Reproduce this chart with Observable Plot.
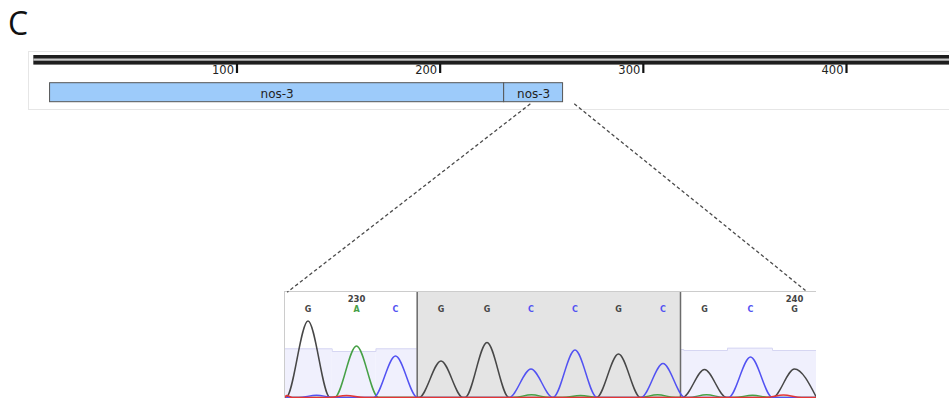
<!DOCTYPE html>
<html><head><meta charset="utf-8">
<script src="https://cdn.jsdelivr.net/npm/d3@7"></script>
<script src="https://cdn.jsdelivr.net/npm/@observablehq/plot@0.6"></script>
<style>
html,body{margin:0;padding:0;background:#fff;}
#fig{position:relative;width:949px;height:398px;overflow:hidden;font-family:"DejaVu Sans",sans-serif;background:#fff;}
#fig > *{position:absolute;}
#panelLabel{left:8px;top:7px;font-family:"Open Sans",sans-serif;font-size:32px;line-height:1;color:#111;}
#panelBox{left:28px;top:51px;width:940px;height:59px;border:1px solid #e6e6e6;box-sizing:border-box;}
</style></head><body><div id="fig"><div id="panelLabel">C</div><div id="panelBox"></div></div>
<script>
// ---------- data ----------
// genome track
const rulerTicks = [100, 200, 300, 400];
const featureNames = ["nos-3", "nos-3"];
const featureStart = [8, 231.5];
const featureEnd = [231.5, 260.5];
const zoomFrom = [244.4, 266.0];        // genome positions where zoom lines start
// chromatogram (trace scan units)
const bases = ["G","A","C","G","G","C","C","G","C","G","C","G"];
const basePositions = [229,230,231,232,233,234,235,236,237,238,239,240];
const peakScans = [23.5, 72, 111, 156.5, 202.5, 246.5, 290.5, 334, 378.5, 420, 466, 510];
const peakHeights = [1530, 1030, 830, 730, 1100, 570, 950, 870, 680, 560, 810, 570];
const quality = [48.7, 46, 48.7, 48, 48, 48, 48, 48, 48, 47, 49.3, 47];
const minorBases = ["T","C","T","A","A","A","A","A","T"];
const minorScans = [2, 32, 62, 247, 296, 373, 422, 468, 499];
const minorHeights = [40, 45, 40, 55, 40, 55, 55, 45, 50];
const highlightRange = [132.7, 396];   // scans of the highlighted region
const positionLabels = [230, 240];
const zoomTo = [2.7, 521];              // scans where zoom lines end
const scanRange = [0, 532];

// ---------- genome track ----------
const featureRows = featureNames.map((n, i) => ({name: n, start: featureStart[i], end: featureEnd[i]}));
const xDomain = [-16.4, 450.7];
const track = Plot.plot({
  width: 949, height: 120, margin: 0,
  style: {background: "transparent", overflow: "visible"},
  x: {domain: xDomain, axis: null},
  y: {domain: [0, 120], range: [0, 120], axis: null},
  marks: [
    Plot.rect([0], {x1: 0, x2: xDomain[1], y1: 55, y2: 64.6, fill: "#1e1e1e"}),
    Plot.rect([0], {x1: 0, x2: xDomain[1], y1: 58.5, y2: 60.7, fill: "#c8c8c8"}),
    Plot.ruleX(rulerTicks, {x: d => d, y1: 64, y2: 73, stroke: "#111", strokeWidth: 2.2}),
    Plot.text(rulerTicks, {x: d => d, y: 70.3, text: d => String(d), textAnchor: "end", dx: -3,
      fontSize: 11.5, fill: "#222", fontFamily: "DejaVu Sans"}),
    Plot.rect(featureRows, {x1: "start", x2: "end", y1: 82.7, y2: 101.7, fill: "#9dcbfa", stroke: "#555", strokeWidth: 1}),
    Plot.text(featureRows, {x: d => (d.start + d.end) / 2, y: 94, text: "name", fontSize: 12, fill: "#222", fontFamily: "DejaVu Sans"})
  ]
});
track.style.left = "0px"; track.style.top = "0px";
document.getElementById("fig").appendChild(track);

// ---------- chromatogram ----------
const colorDomain = ["G", "A", "C", "T"];
const colorRange = ["#474747", "#46a046", "#5252f2", "#e53535"];
const baseRows = bases.map((b, i) => ({base: b, pos: basePositions[i], scan: peakScans[i], h: peakHeights[i], q: quality[i]}));
const qualRows = baseRows.map((d, i) => ({
  x1: i === 0 ? scanRange[0] : (peakScans[i - 1] + d.scan) / 2,
  x2: i === baseRows.length - 1 ? scanRange[1] : (d.scan + peakScans[i + 1]) / 2,
  q: d.q * 20
}));
const qualEdge = qualRows.flatMap(r => [{x: r.x1, y: r.q}, {x: r.x2, y: r.q}]);
const peaks = baseRows.map(d => ({base: d.base, scan: d.scan, h: d.h, w: 22}))
  .concat(minorBases.map((b, i) => ({base: b, scan: minorScans[i], h: minorHeights[i], w: b === "T" && minorScans[i] < 10 ? 6 : 18})));
const tracePoints = [];
for (const ch of colorDomain) {
  const pts = [{x: scanRange[0], y: 0}];
  peaks.filter(p => p.base === ch).sort((a, b) => a.scan - b.scan).forEach(p => {
    pts.push({x: Math.max(scanRange[0] + 0.1, p.scan - p.w), y: 0}, {x: p.scan, y: p.h}, {x: p.scan + p.w, y: 0});
  });
  pts.push({x: scanRange[1], y: 0});
  pts.sort((a, b) => a.x - b.x);
  let last = -Infinity;
  for (const p of pts) { if (p.x - last > 0.05) { tracePoints.push({base: ch, x: p.x, y: p.y}); last = p.x; } }
}
const labelRows = positionLabels.map(p => ({text: String(p), scan: peakScans[basePositions.indexOf(p)]}));

const chrom = Plot.plot({
  width: 532, height: 110, margin: 0,
  style: {background: "transparent"},
  x: {domain: scanRange, axis: null},
  y: {domain: [-80, 2120], axis: null},
  color: {domain: colorDomain, range: colorRange},
  marks: [
    Plot.rect(qualRows, {x1: "x1", x2: "x2", y1: -80, y2: "q", fill: "#f0f0fd"}),
    Plot.line(qualEdge, {x: "x", y: "y", stroke: "#d6d6f2", strokeWidth: 1}),
    Plot.rect([0], {x1: highlightRange[0], x2: highlightRange[1], fill: "#e4e4e4"}),
    Plot.ruleX(highlightRange, {x: d => d, stroke: "#6b6b6b", strokeWidth: 1.5}),
    Plot.line(tracePoints, {x: "x", y: "y", z: "base", stroke: "base", curve: "monotone-x", strokeWidth: 1.5}),
    Plot.text(baseRows, {x: "scan", frameAnchor: "top", dy: 14.5, text: "base", fill: "base",
      fontWeight: "bold", fontSize: 8, fontFamily: "DejaVu Sans"}),
    Plot.text(labelRows, {x: "scan", frameAnchor: "top", dy: 4.5, text: "text", fill: "#444",
      fontWeight: "bold", fontSize: 8.5, fontFamily: "DejaVu Sans"}),
    Plot.frame({stroke: "#cccccc"})
  ]
});
const chromLeft = 284, chromTop = 291;
chrom.style.left = chromLeft + "px"; chrom.style.top = chromTop + "px";
document.getElementById("fig").appendChild(chrom);

// ---------- zoom connector lines ----------
const tx = track.scale("x"), cx = chrom.scale("x");
const links = [0, 1].map(i => ({
  x1: tx.apply(zoomFrom[i]), y1: 103.3,
  x2: chromLeft + cx.apply(zoomTo[i]), y2: i === 0 ? 291.7 : 290
}));
const overlay = Plot.plot({
  width: 949, height: 398, margin: 0,
  style: {background: "transparent", pointerEvents: "none"},
  x: {domain: [0, 949], range: [0, 949], axis: null},
  y: {domain: [0, 398], range: [0, 398], axis: null},
  marks: [
    Plot.link(links, {x1: "x1", y1: "y1", x2: "x2", y2: "y2", stroke: "#4a4a4a", strokeWidth: 1.3, strokeDasharray: "3.5,2.5"})
  ]
});
overlay.style.left = "0px"; overlay.style.top = "0px";
document.getElementById("fig").appendChild(overlay);
</script></body></html>
